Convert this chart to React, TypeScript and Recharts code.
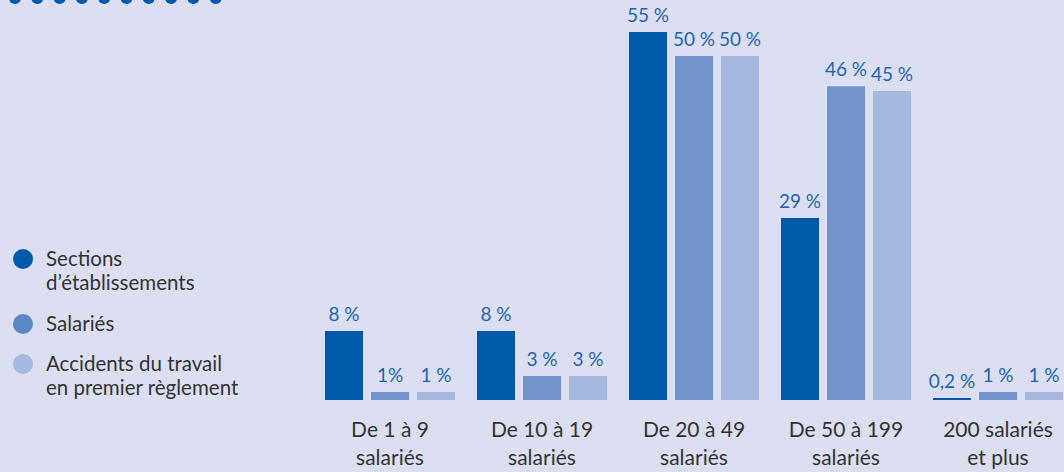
import { Bar, BarChart, LabelList, XAxis, YAxis } from "recharts";

// tailles d'entreprise
const categories = [
  ["De 1 à 9", "salariés"],
  ["De 10 à 19", "salariés"],
  ["De 20 à 49", "salariés"],
  ["De 50 à 199", "salariés"],
  ["200 salariés", "et plus"],
];

const sections = [10.3, 10.3, 55, 27.2, 0.3];
const salaries = [1.2, 3.6, 51.4, 46.9, 1.2];
const accidents = [1.2, 3.6, 51.4, 46.2, 1.2];

// étiquettes affichées
const sectionsLabels = ["8 %", "8 %", "55 %", "29 %", "0,2 %"];
const salariesLabels = ["1%", "3 %", "50 %", "46 %", "1 %"];
const accidentsLabels = ["1 %", "3 %", "50 %", "45 %", "1 %"];

const series = [
  { key: "sections", name: ["Sections", "d’établissements"], color: "#005aa9", dot: "#005aa9", labels: sectionsLabels },
  { key: "salaries", name: ["Salariés"], color: "#7294cb", dot: "#5b87c5", labels: salariesLabels },
  { key: "accidents", name: ["Accidents du travail", "en premier règlement"], color: "#a6b8df", dot: "#a6b8df", labels: accidentsLabels },
];

const rows = categories.map((c, i) => ({
  cat: i,
  sections: sections[i],
  salaries: salaries[i],
  accidents: accidents[i],
}));

const FONT = "Lato, 'Source Sans Pro', sans-serif";
const BG = "#dcdff2";

function CatTick({ x, y, payload }: any) {
  const lines = categories[payload.value] || [];
  return (
    <text x={x} y={y} textAnchor="middle" fontFamily={FONT} fontSize={21} fill="#333333">
      {lines.map((l, i) => (
        <tspan key={i} x={x} y={y + 29 + i * 28}>
          {l}
        </tspan>
      ))}
    </text>
  );
}

const makeLabel = (labels: string[]) => (props: any) => {
  const { x, y, width, index } = props;
  return (
    <text
      x={x + width / 2}
      y={y - 10}
      textAnchor="middle"
      fontFamily={FONT}
      fontSize={19}
      fill="#1f65b2"
    >
      {labels[index]}
    </text>
  );
};

function Legend() {
  const tops = [246, 311, 351];
  return (
    <>
      {series.map((s, i) => (
        <div
          key={s.key}
          style={{ position: "absolute", left: 13, top: tops[i], display: "flex", alignItems: "flex-start" }}
        >
          <div
            style={{
              width: 20,
              height: 20,
              borderRadius: 10,
              background: s.dot,
              marginTop: 3,
              flexShrink: 0,
            }}
          />
          <div
            style={{
              marginLeft: 13,
              fontFamily: FONT,
              fontSize: 20.5,
              lineHeight: "24px",
              color: "#333333",
              whiteSpace: "nowrap",
            }}
          >
            {s.name.map((n, j) => (
              <div key={j}>{n}</div>
            ))}
          </div>
        </div>
      ))}
    </>
  );
}

export default function App() {
  return (
    <div
      style={{
        position: "absolute",
        left: 0,
        top: 0,
        width: 1064,
        height: 472,
        overflow: "hidden",
        background: BG,
      }}
    >
      <svg width={240} height={10} style={{ position: "absolute", left: 0, top: 0 }}>
        {Array.from({ length: 10 }).map((_, i) => (
          <circle key={i} cx={15 + i * 22.3} cy={-2} r={6} fill="#005aa9" />
        ))}
      </svg>
      <Legend />
      <div style={{ position: "absolute", left: 0, top: 0 }}>
        <BarChart
          width={1074}
          height={472}
          data={rows}
          margin={{ top: 32, right: 0, left: 314, bottom: 0 }}
          barSize={38}
          barGap={8}
        >
          <XAxis
            dataKey="cat"
            axisLine={false}
            tickLine={false}
            height={72}
            interval={0}
            tick={<CatTick />}
          />
          <YAxis hide domain={[0, 55]} />
          {series.map((s) => (
            <Bar key={s.key} dataKey={s.key} fill={s.color} isAnimationActive={false}>
              <LabelList dataKey={s.key} content={makeLabel(s.labels)} />
            </Bar>
          ))}
        </BarChart>
      </div>
    </div>
  );
}
